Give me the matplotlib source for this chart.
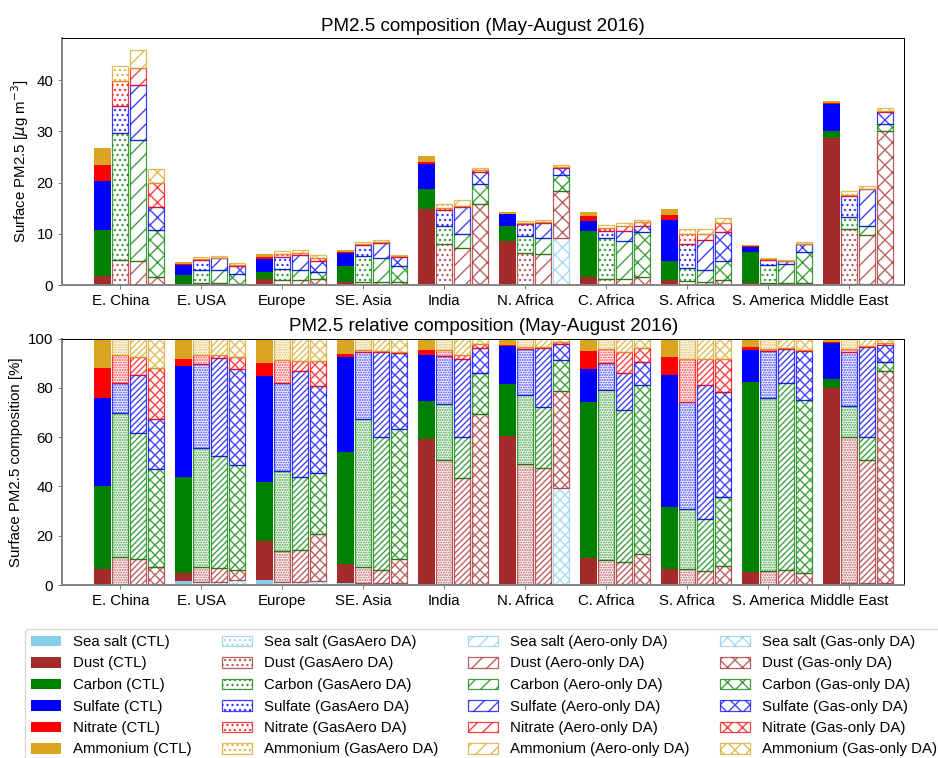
import numpy as np
import matplotlib
matplotlib.use("Agg")
import matplotlib.pyplot as plt

plt.rcParams['font.family'] = ['Liberation Sans', 'DejaVu Sans']
plt.rcParams['hatch.linewidth'] = 1.1

regions = ['E. China', 'E. USA', 'Europe', 'SE. Asia', 'India', 'N. Africa',
           'C. Africa', 'S. Africa', 'S. America', 'Middle East']
species = ['Sea salt', 'Dust', 'Carbon', 'Sulfate', 'Nitrate', 'Ammonium']
experiments = ['CTL', 'GasAero DA', 'Aero-only DA', 'Gas-only DA']
colors = ['skyblue', 'brown', 'green', 'blue', 'red', 'goldenrod']

# surface PM2.5 [ug m-3], one list per species per experiment
ctl_seasalt = [0.05, 0.07, 0.13, 0.06, 0.13, 0.07, 0.06, 0.04, 0.02, 0.14]
ctl_dust = [1.68, 0.14, 0.95, 0.53, 14.80, 8.56, 1.51, 0.92, 0.40, 28.61]
ctl_carbon = [9.02, 1.76, 1.45, 3.10, 3.88, 2.99, 9.00, 3.74, 6.01, 1.33]
ctl_sulfate = [9.53, 2.02, 2.61, 2.64, 4.73, 2.22, 1.89, 7.95, 1.02, 5.24]
ctl_nitrate = [3.23, 0.12, 0.32, 0.08, 0.48, 0.06, 1.04, 1.08, 0.09, 0.14]
ctl_ammonium = [3.18, 0.37, 0.59, 0.42, 1.16, 0.34, 0.71, 1.10, 0.27, 0.43]

gasaero_seasalt = [0.09, 0.07, 0.09, 0.06, 0.08, 0.05, 0.05, 0.03, 0.01, 0.13]
gasaero_dust = [4.70, 0.32, 0.82, 0.55, 7.93, 6.11, 1.13, 0.66, 0.29, 10.89]
gasaero_carbon = [24.98, 2.61, 2.16, 5.01, 3.57, 3.50, 8.06, 2.67, 3.65, 2.27]
gasaero_sulfate = [5.29, 1.85, 2.37, 2.27, 3.02, 2.31, 1.30, 4.71, 1.00, 4.05]
gasaero_nitrate = [4.83, 0.21, 0.61, 0.06, 0.39, 0.09, 0.67, 1.87, 0.04, 0.22]
gasaero_ammonium = [2.82, 0.35, 0.58, 0.38, 0.74, 0.44, 0.49, 0.91, 0.22, 0.77]

aero_seasalt = [0.09, 0.08, 0.09, 0.06, 0.08, 0.05, 0.05, 0.03, 0.01, 0.16]
aero_dust = [4.68, 0.32, 0.88, 0.48, 7.09, 5.96, 1.07, 0.57, 0.29, 9.65]
aero_carbon = [23.50, 2.60, 2.04, 4.74, 2.78, 3.16, 7.54, 2.33, 3.75, 1.80]
aero_sulfate = [10.79, 2.28, 2.94, 3.01, 5.24, 3.02, 1.82, 5.93, 0.68, 7.09]
aero_nitrate = [3.35, 0.06, 0.27, 0.04, 0.21, 0.05, 1.05, 1.12, 0.02, 0.10]
aero_ammonium = [3.49, 0.38, 0.62, 0.45, 1.12, 0.44, 0.67, 0.92, 0.18, 0.58]

gas_seasalt = [0.05, 0.08, 0.10, 0.05, 0.11, 9.17, 0.05, 0.04, 0.02, 0.24]
gas_dust = [1.59, 0.18, 1.09, 0.57, 15.76, 9.29, 1.55, 0.96, 0.40, 29.92]
gas_carbon = [9.03, 1.80, 1.44, 3.11, 3.85, 2.95, 8.70, 3.67, 5.93, 1.28]
gas_sulfate = [4.63, 1.65, 2.04, 1.82, 2.27, 1.50, 1.22, 5.65, 1.68, 2.39]
gas_nitrate = [4.70, 0.21, 0.59, 0.04, 0.41, 0.16, 0.71, 1.73, 0.04, 0.17]
gas_ammonium = [2.70, 0.31, 0.52, 0.31, 0.50, 0.33, 0.47, 1.09, 0.39, 0.66]

data = [
    [ctl_seasalt, ctl_dust, ctl_carbon, ctl_sulfate, ctl_nitrate, ctl_ammonium],
    [gasaero_seasalt, gasaero_dust, gasaero_carbon, gasaero_sulfate, gasaero_nitrate, gasaero_ammonium],
    [aero_seasalt, aero_dust, aero_carbon, aero_sulfate, aero_nitrate, aero_ammonium],
    [gas_seasalt, gas_dust, gas_carbon, gas_sulfate, gas_nitrate, gas_ammonium],
]
data = np.array(data, dtype=float)  # (exp, species, region)

hatch_top = ['', '...', '//', 'xx']
hatch_bot = ['', '......', '/////', 'xxx']

DPI = 90
fig = plt.figure(figsize=(938 / DPI, 758 / DPI), dpi=DPI)
ax1 = fig.add_axes([0.0661, 0.624, 0.898, 0.3255])
ax2 = fig.add_axes([0.0661, 0.2282, 0.898, 0.325])

x = np.arange(len(regions))
width = 0.2
step = 0.22


def draw(ax, values, hatches):
    handles = []
    for e in range(len(experiments)):
        bottom = np.zeros(len(regions))
        pos = x + (e - 1) * step
        for s in range(len(species)):
            v = values[e, s]
            if e == 0:
                b = ax.bar(pos, v, width, bottom=bottom, color=colors[s], linewidth=0,
                           label=f'{species[s]} ({experiments[e]})')
            else:
                b = ax.bar(pos, v, width, bottom=bottom, facecolor='none',
                           edgecolor=colors[s], hatch=hatches[e], alpha=0.75, linewidth=1.0,
                           label=f'{species[s]} ({experiments[e]})')
            handles.append(b)
            bottom = bottom + v
    return handles


handles = draw(ax1, data, hatch_top)
totals = data.sum(axis=1, keepdims=True)
pct = data / totals * 100.0
draw(ax2, pct, hatch_bot)

for ax in (ax1, ax2):
    ax.set_xticks(x)
    ax.set_xticklabels(regions, fontsize=12)
    ax.set_xlim(-0.72, 9.68)
    ax.tick_params(axis='both', labelsize=12, color='grey')
    for side in ('left', 'bottom'):
        ax.spines[side].set_color('grey')
        ax.spines[side].set_linewidth(1.5)

ax2.set_ylim(0, 100)
ax1.set_title('PM2.5 composition (May-August 2016)', fontsize=15)
ax2.set_title('PM2.5 relative composition (May-August 2016)', fontsize=15)
ax1.set_ylabel('Surface PM2.5 [$\\mu$g m$^{-3}$]', fontsize=12)
ax2.set_ylabel('Surface PM2.5 composition [%]', fontsize=12)

labels = [f'{sp} ({ex})' for ex in experiments for sp in species]
fig.legend(handles, labels, ncol=4, loc='upper left',
           bbox_to_anchor=(25 / 938, 1 - 629 / 758), borderaxespad=0, fontsize=12)

fig.savefig('out.png', dpi=DPI)
